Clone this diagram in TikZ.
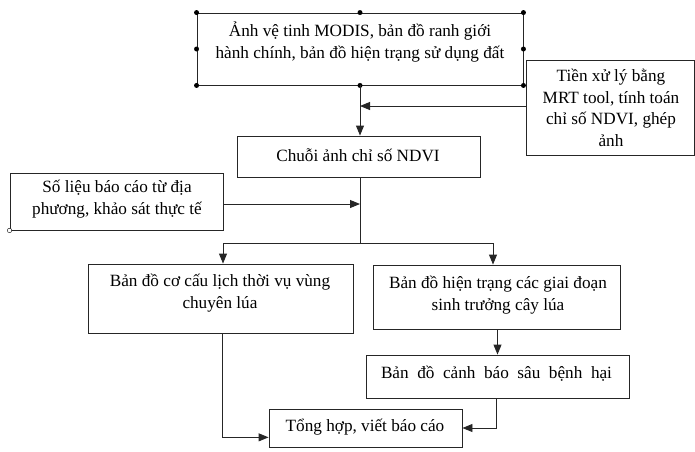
\documentclass[tikz,border=0pt]{standalone}
\usepackage{fontspec}
\setmainfont{Liberation Serif}
\usetikzlibrary{arrows.meta,calc}
\begin{document}
\begin{tikzpicture}[x=1pt,y=-1pt,
  box/.style={draw=black!85,line width=0.9pt,inner sep=0pt,rectangle},
  txt/.style={font=\fontsize{17.2}{21.5}\selectfont,align=center,inner sep=0pt},
  conn/.style={draw=black!85,line width=0.9pt},
  arr/.style={conn,-{Triangle[length=10pt,width=8pt]}},
  handle/.style={circle,fill=black,inner sep=0pt,minimum size=5pt}]
\useasboundingbox (0,0) rectangle (695,451);
% boxes
\node[box,minimum width=326pt,minimum height=72pt] (top) at (360,49) {};
\node[box,minimum width=168pt,minimum height=95pt] (tien) at (610,107.5) {};
\node[box,minimum width=243pt,minimum height=41pt] (chuoi) at (358.5,156.5) {};
\node[box,minimum width=213pt,minimum height=57pt] (solieu) at (116.5,201.5) {};
\node[box,minimum width=265pt,minimum height=69pt] (cocau) at (220.5,298.5) {};
\node[box,minimum width=247pt,minimum height=64pt] (hientrang) at (496.5,297) {};
\node[box,minimum width=263pt,minimum height=43pt] (canhbao) at (497.5,376.5) {};
\node[box,minimum width=193pt,minimum height=38pt] (tonghop) at (365.5,428) {};
% texts
\node[txt] (ttop) at (360,42) {Ảnh vệ tinh MODIS, bản đồ ranh giới\\hành chính, bản đồ hiện trạng sử dụng đất};
\node[txt] (ttien) at (611,108) {Tiền xử lý bằng\\MRT tool, tính toán\\chỉ số NDVI, ghép\\ảnh};
\node[txt] (tchuoi) at (358,155) {Chuỗi ảnh chỉ số NDVI};
\node[txt] (tsolieu) at (117,199) {Số liệu báo cáo từ địa\\phương, khảo sát thực tế};
\node[txt] (tcocau) at (220,293) {Bản đồ cơ cấu lịch thời vụ vùng\\chuyên lúa};
\node[txt] (thientrang) at (498,295) {Bản đồ hiện trạng các giai đoạn\\sinh trưởng cây lúa};
\node[txt] (tcanhbao) at (496.5,374) {\makebox[231pt][s]{Bản đồ cảnh báo sâu bệnh hại}};
\node[txt] (ttonghop) at (365,427) {Tổng hợp, viết báo cáo};
% handles on top box
\foreach \a in {north west,north,north east,east,south east,south,south west,west}
  \node[handle] at (top.\a) {};
\node[circle,draw=black,fill=white,inner sep=0pt,minimum size=4.5pt] (hsl) at (solieu.south west) {};
% connector coordinates
\coordinate (s1) at (360,106);
\coordinate (s2) at (360,204);
\coordinate (s3) at (360,243);
\coordinate (l1) at (223,243);
\coordinate (r1) at (493,243);
% connectors
\draw[arr] (top.south) -- (chuoi.north -| top.south);
\draw[arr] (tien.west |- s1) -- (s1);
\draw[conn] (chuoi.south -| s3) -- (s3);
\draw[arr] (solieu.east |- s2) -- (s2);
\draw[conn] (l1) -- (r1);
\draw[arr] (l1) -- (cocau.north -| l1);
\draw[arr] (r1) -- (hientrang.north -| r1);
\draw[arr] (hientrang.south -| canhbao.north) -- (canhbao.north);
\coordinate (b1) at ($(tonghop.south west)!0.26!(tonghop.north west)$);
\draw[arr] (cocau.south -| 222,0) |- (b1);
\draw[arr] (canhbao.south -| 496,0) |- (tonghop.east);
\end{tikzpicture}
\end{document}
